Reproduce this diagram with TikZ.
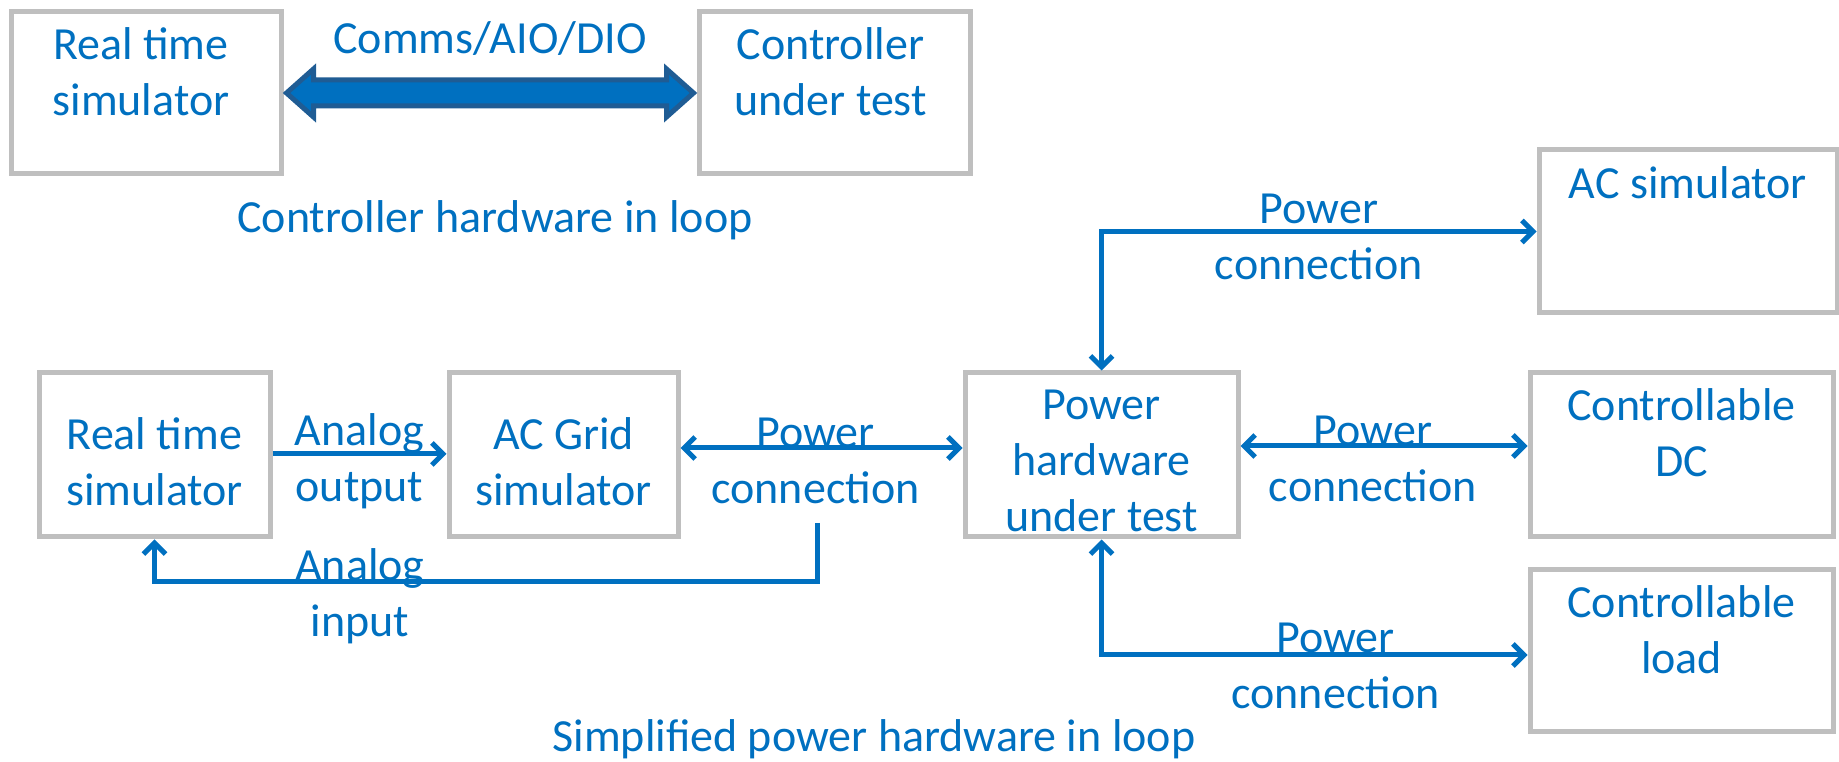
\documentclass[tikz,border=0pt]{standalone}
\usepackage{fontspec}
\setmainfont{Carlito}
\usetikzlibrary{positioning,calc,arrows.meta}
\definecolor{pptblue}{HTML}{0070C0}
\definecolor{boxgray}{HTML}{BFBFBF}
\definecolor{edgeblue}{HTML}{1F5C94}

\begin{document}
\begin{tikzpicture}[x=1pt, y=1pt,
  box/.style={draw=boxgray, line width=5pt, rectangle, minimum height=162pt},
  txt/.style={text=pptblue, font=\fontsize{46}{56}\selectfont, align=center, inner sep=0pt},
  conn/.style={draw=pptblue, line width=5pt, {Straight Barb[length=11pt,width=22pt]}-{Straight Barb[length=11pt,width=22pt]}},
  sig/.style={draw=pptblue, line width=5pt, -{Straight Barb[length=11pt,width=22pt]}},
  bigarrow/.style={fill=pptblue, draw=edgeblue, line width=5pt, line join=miter}]
\useasboundingbox (0,0) rectangle (1839,762);

% Controller hardware in loop
\node[box, minimum width=270pt] (rtsc) at (146,669) {};
\node[box, minimum width=271pt] (cut) at (834.5,669) {};
\node[txt] (rtsc-txt) at ([xshift=-5pt, yshift=21pt]rtsc.center) {Real time\\simulator};
\node[txt] (cut-txt) at ([xshift=-4pt, yshift=21pt]cut.center) {Controller\\under test};
\node[txt] (comms) at ($(rtsc.east)!0.5!(cut.west)+(0,54)$) {Comms/AIO/DIO};
\node[txt] (chil) at (495,542) {Controller hardware in loop};

\draw[bigarrow] ([xshift=3pt]rtsc.east) -- ++(27,24) -- ++(0,-11) -- ($(cut.west)+(-30,13)$) -- ++(0,11)
  -- ([xshift=-3pt]cut.west) -- ++(-27,-24) -- ++(0,11) -- ($(rtsc.east)+(30,-13)$) -- ++(0,-11) -- cycle;

% Power hardware in loop - boxes
\node[box, minimum width=231pt, minimum height=164pt] (rtsp) at (154.5,307) {};
\node[box, minimum width=229pt, minimum height=164pt] (acg) at (563.5,307) {};
\node[box, minimum width=273pt, minimum height=164pt] (phut) at (1101.5,307) {};
\node[box, minimum width=298pt, minimum height=163pt] (acs) at (1688,530.5) {};
\node[box, minimum width=303pt, minimum height=164pt] (cdc) at (1681.5,307) {};
\node[box, minimum width=303pt] (cload) at (1681.5,111) {};

\node[txt] (rtsp-txt) at ([yshift=-7pt]rtsp.center) {Real time\\simulator};
\node[txt] (acg-txt) at ([yshift=-7pt]acg.center) {AC Grid\\simulator};
\node[txt] (phut-txt) at ([yshift=-6pt]phut.center) {Power\\hardware\\under test};
\node[txt] (acs-txt) at ([yshift=49pt]acs.center) {AC simulator};
\node[txt] (cdc-txt) at ([yshift=22pt]cdc.center) {Controllable\\DC};
\node[txt] (cload-txt) at ([yshift=21pt]cload.center) {Controllable\\load};
\node[txt] (phil) at (874,23) {Simplified power hardware in loop};

% Arrows
\draw[sig] ([yshift=1pt]rtsp.east) -- node[txt, yshift=-7pt] (aout) {Analog\\output} ([yshift=1pt]acg.west);
\draw[conn] ([yshift=7pt]acg.east) -- node[txt, xshift=-6pt, yshift=-13pt] (pc1) {Power\\connection} ([yshift=7pt]phut.west);
\draw[conn] (phut.north) |- node[txt, pos=0.75, yshift=-5pt] (pc2) {Power\\connection} (acs.west);
\draw[conn] ([yshift=9pt]phut.east) -- node[txt, xshift=-11pt, yshift=-13pt] (pc3) {Power\\connection} ([yshift=9pt]cdc.west);
\draw[conn] (phut.south) |- node[txt, pos=0.75, xshift=21pt, yshift=-11pt] (pc4) {Power\\connection} ([yshift=-4pt]cload.west);

\coordinate (fb) at (817,239);
\draw[sig] (fb) -- ++(0,-59) -| (rtsp.south);
\node[txt] (ain) at (360,166) {Analog\\input};
\end{tikzpicture}
\end{document}
